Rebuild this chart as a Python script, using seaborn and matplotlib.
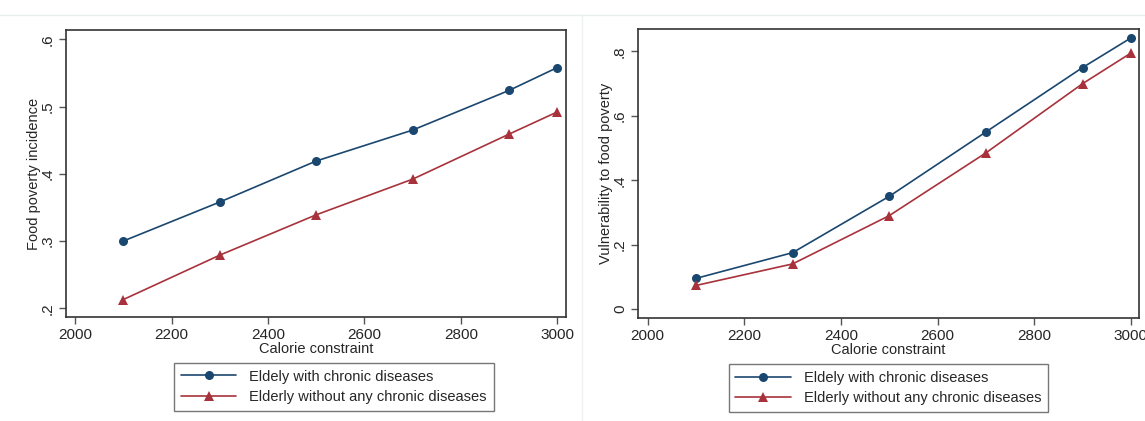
import numpy as np
import pandas as pd
import matplotlib
matplotlib.use("Agg")

import matplotlib.pyplot as plt
import seaborn as sns
from matplotlib.lines import Line2D
from matplotlib.ticker import FuncFormatter

# Data
calories = [2100, 2300, 2500, 2700, 2900, 3000]

incidence_chronic = [0.300, 0.358, 0.419, 0.465, 0.524, 0.558]
incidence_none = [0.213, 0.279, 0.339, 0.392, 0.459, 0.492]

vuln_chronic = [0.095, 0.175, 0.350, 0.550, 0.750, 0.842]
vuln_none = [0.073, 0.140, 0.290, 0.485, 0.700, 0.795]

groups = [
    "Eldely with chronic diseases",
    "Elderly without any chronic diseases"
]

x_ticks = [2000, 2200, 2400, 2600, 2800, 3000]
left_yticks = [0.2, 0.3, 0.4, 0.5, 0.6]
right_yticks = [0, 0.2, 0.4, 0.6, 0.8]

colors = {groups[0]: "#1a476f", groups[1]: "#a8323b"}
markers = {groups[0]: "o", groups[1]: "^"}


def long_df(a, b):
    return pd.DataFrame({
        "Calorie constraint": calories * 2,
        "value": a + b,
        "group": [groups[0]] * len(a) + [groups[1]] * len(b)
    })


sns.set_theme(style="white")
plt.rcParams["font.family"] = ["Liberation Sans", "DejaVu Sans"]

fig = plt.figure(figsize=(11.45, 4.21), dpi=100)

ax1 = fig.add_axes([0.0576, 0.247, 0.4367, 0.682])
ax2 = fig.add_axes([0.5572, 0.2447, 0.4372, 0.6865])


def stata_fmt(v, pos):
    if abs(v) < 1e-9:
        return "0"
    return f"{v:.1f}".lstrip("0")


panels = [
    (ax1, long_df(incidence_chronic, incidence_none), "Food poverty incidence",
     left_yticks, (0.187, 0.614), (1981, 3018), 0.536),
    (ax2, long_df(vuln_chronic, vuln_none), "Vulnerability to food poverty",
     right_yticks, (-0.028, 0.870), (1980, 3016), 0.5),
]

for ax, df, ylab, yt, ylim, xlim, leg_x in panels:

    sns.lineplot(
        data=df,
        x="Calorie constraint",
        y="value",
        hue="group",
        style="group",
        markers=markers,
        dashes=False,
        palette=colors,
        markersize=6.5,
        markeredgewidth=0,
        linewidth=1.2,
        legend=False,
        ax=ax
    )

    ax.set_xlim(*xlim)
    ax.set_ylim(*ylim)
    ax.set_xticks(x_ticks)
    ax.set_yticks(yt)
    ax.yaxis.set_major_formatter(FuncFormatter(stata_fmt))

    ax.set_xlabel("Calorie constraint", fontsize=10.5, labelpad=0)
    ax.set_ylabel(ylab, fontsize=10.5, labelpad=0)

    ax.tick_params(
        axis="both",
        direction="out",
        length=5,
        width=1,
        color="#555555",
        labelsize=11,
        left=True,
        bottom=True,
        pad=3
    )
    for lab in ax.get_yticklabels():
        lab.set_rotation(90)
        lab.set_va("center")

    for sp in ax.spines.values():
        sp.set_color("#333333")
        sp.set_linewidth(1.2)

    handles = [
        Line2D([], [], color=colors[g], marker=markers[g],
               markersize=6.5, markeredgewidth=0, linewidth=1.2)
        for g in groups
    ]

    ax.legend(
        handles,
        groups,
        loc="upper center",
        bbox_to_anchor=(leg_x, -0.16),
        frameon=True,
        fancybox=False,
        edgecolor="#555555",
        fontsize=10.5,
        handlelength=3.8,
        handletextpad=0.9,
        borderpad=0.45,
        labelspacing=0.45,
        borderaxespad=0
    )

# faint separator lines
fig.add_artist(Line2D([0.0, 1.0], [1 - 15 / 421, 1 - 15 / 421],
                      transform=fig.transFigure, color="#e6eeee", lw=1))
fig.add_artist(Line2D([582 / 1145, 582 / 1145], [0.0, 1 - 15 / 421],
                      transform=fig.transFigure, color="#eef2f2", lw=1))

plt.savefig("out.png", dpi=100)
